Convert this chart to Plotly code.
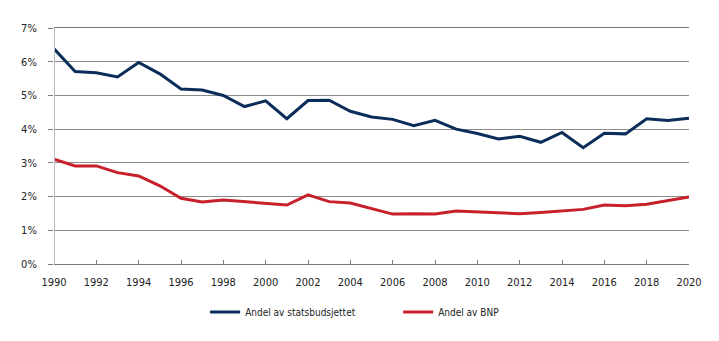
import plotly.graph_objects as go

years = list(range(1990, 2021))
statsbudsjett = [6.38, 5.71, 5.67, 5.55, 5.98, 5.64, 5.19, 5.16, 5.00, 4.67, 4.84,
                 4.31, 4.85, 4.86, 4.53, 4.36, 4.29, 4.10, 4.26, 4.00, 3.87,
                 3.71, 3.79, 3.61, 3.90, 3.45, 3.88, 3.86, 4.31, 4.26, 4.32]
bnp = [3.11, 2.91, 2.91, 2.71, 2.61, 2.32, 1.95, 1.84, 1.90, 1.85, 1.78,
       1.75, 2.05, 1.85, 1.81, 1.64, 1.48, 1.49, 1.48, 1.57, 1.55,
       1.53, 1.49, 1.53, 1.58, 1.62, 1.75, 1.73, 1.77, 1.89, 1.99]
series_names = ["Andel av statsbudsjettet", "Andel av BNP"]
y_ticks = [0, 1, 2, 3, 4, 5, 6, 7]
y_tick_labels = [f"{v}%" for v in y_ticks]
x_ticks = list(range(1990, 2021, 2))

FONT = "DejaVu Sans Condensed, sans-serif"

fig = go.Figure()
fig.add_trace(go.Scatter(x=years, y=statsbudsjett, mode="lines", name=series_names[0],
                         line=dict(color="#0b2d5a", width=3)))
fig.add_trace(go.Scatter(x=years, y=bnp, mode="lines", name=series_names[1],
                         line=dict(color="#c8202a", width=3)))

fig.update_layout(
    width=719, height=341,
    margin=dict(l=54, r=30, t=28, b=77, autoexpand=False),
    paper_bgcolor="white", plot_bgcolor="white",
    font=dict(family=FONT, size=11, color="#222222"),
    showlegend=True,
    legend=dict(orientation="h", x=0.238, xanchor="left", y=-0.142, yanchor="top",
                font=dict(family=FONT, size=10, color="#222222"),
                entrywidth=148, entrywidthmode="pixels", tracegroupgap=0,
                bgcolor="rgba(0,0,0,0)"),
)
fig.update_xaxes(
    range=[1990, 2020], tickvals=x_ticks, ticktext=[str(v) for v in x_ticks],
    showgrid=False, zeroline=False,
    showline=True, linecolor="#7a7a7a", linewidth=1, mirror=True,
    ticks="inside", ticklen=4, tickcolor="#7a7a7a",
    ticklabelstandoff=8,
    tickfont=dict(family=FONT, size=11, color="#222222"),
)
fig.update_yaxes(
    range=[0, 7], tickvals=y_ticks, ticktext=y_tick_labels,
    showgrid=True, gridcolor="#8a8a8a", gridwidth=1, zeroline=False,
    showline=False,
    ticks="outside", ticklen=5, tickcolor="#7a7a7a",
    ticklabelstandoff=9,
    tickfont=dict(family=FONT, size=11, color="#222222"),
)
fig.add_shape(type="line", xref="x", yref="paper", x0=1990, x1=1990, y0=0, y1=1,
              line=dict(color="#bdbdbd", width=2), layer="above")

fig.write_html("out.html")
